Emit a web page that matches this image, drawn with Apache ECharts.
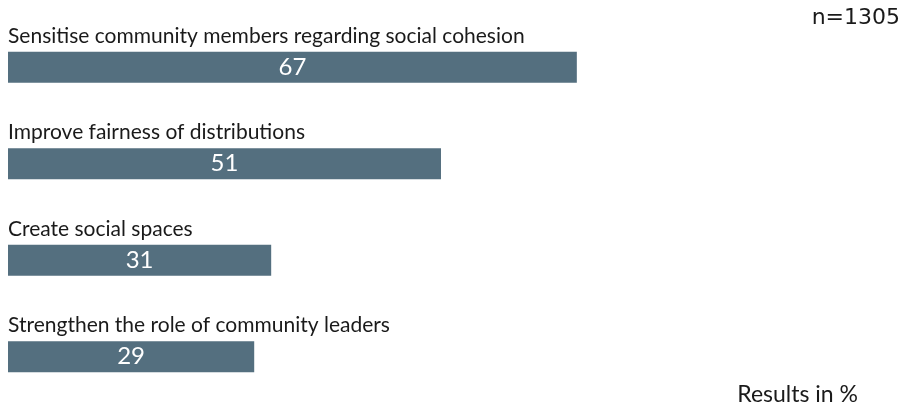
<!DOCTYPE html>
<html>
<head>
<meta charset="utf-8">
<script src="https://cdn.jsdelivr.net/npm/echarts@6/dist/echarts.min.js"></script>
<style>
  html, body { margin: 0; padding: 0; background: #ffffff; }
  #chart { width: 902px; height: 405px; }
</style>
</head>
<body>
<div id="chart"></div>
<script>
// Measures to strengthen social cohesion (share of respondents, %)
const categories = [
  'Sensitise community members regarding social cohesion',
  'Improve fairness of distributions',
  'Create social spaces',
  'Strengthen the role of community leaders'
];
const values = [67, 51, 31, 29];
const sampleNote = 'n=1305';
const unitNote = 'Results in %';

const barColor = '#546f7f';
const textFont = 'Lato, "Open Sans", sans-serif';

const chart = echarts.init(document.getElementById('chart'), null, { renderer: 'canvas' });

chart.setOption({
  animation: false,
  backgroundColor: '#ffffff',
  grid: { left: 8, right: 45, top: 19, bottom: -2, containLabel: false },
  xAxis: {
    type: 'value',
    min: 0,
    max: 100,
    show: false
  },
  yAxis: {
    type: 'category',
    data: categories,
    inverse: true,
    axisLine: { show: false },
    axisTick: { show: false },
    splitLine: { show: false },
    axisLabel: {
      inside: true,
      align: 'left',
      verticalAlign: 'bottom',
      margin: 0,
      padding: [0, 0, 21, 0],
      color: '#1a1a1a',
      fontSize: 21,
      fontFamily: textFont
    },
    z: 5
  },
  series: [{
    type: 'bar',
    data: values,
    barWidth: 31,
    itemStyle: { color: barColor },
    label: {
      show: true,
      position: 'inside',
      color: '#ffffff',
      fontSize: 24,
      fontFamily: textFont,
      formatter: '{c}'
    }
  }],
  graphic: [
    {
      type: 'text',
      right: 2,
      top: 7,
      style: {
        text: sampleNote,
        fontSize: 22,
        fontFamily: '"DejaVu Sans", sans-serif',
        fill: '#1a1a1a'
      }
    },
    {
      type: 'text',
      right: 44,
      top: 383,
      style: {
        text: unitNote,
        fontSize: 23,
        fontFamily: textFont,
        fill: '#1a1a1a'
      }
    }
  ]
});
</script>
</body>
</html>
